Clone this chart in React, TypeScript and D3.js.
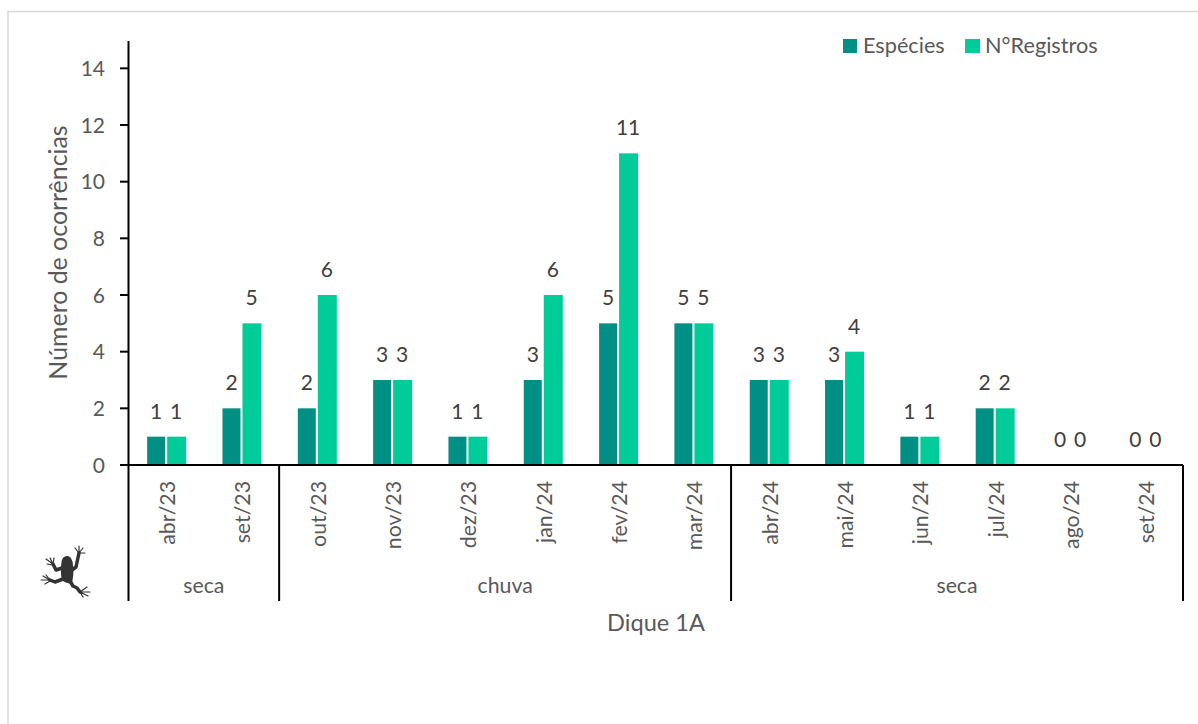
import React from "react";
import * as d3 from "d3";

const months = ["abr/23","set/23","out/23","nov/23","dez/23","jan/24","fev/24","mar/24","abr/24","mai/24","jun/24","jul/24","ago/24","set/24"];
const especies = [1,2,2,3,1,3,5,5,3,3,1,2,0,0];
const registros = [1,5,6,3,1,6,11,5,3,4,1,2,0,0];
const seasons = [
  { label: "seca", span: 2 },
  { label: "chuva", span: 6 },
  { label: "seca", span: 6 },
];
const yTicks = [0,2,4,6,8,10,12,14];
const seriesNames = ["Espécies", "N°Registros"];
const colors = ["#008F84", "#00CC99"];
const font = "Lato, 'Open Sans', sans-serif";
const grey = "#595959";

export default function App() {
  const x = d3.scaleBand<number>().domain(d3.range(months.length)).range([128.5, 1183]);
  const y = d3.scaleLinear().domain([0, 15]).range([465, 40]);
  const barW = 18;
  const gap = 2;
  let cum = 0;
  const groups = seasons.map((s) => {
    const start = cum;
    cum += s.span;
    return { ...s, start, end: cum };
  });
  const edge = (i: number) => (i >= months.length ? 1183 : (x(i) as number));
  const boundaries = [0, ...groups.map((g) => g.end)];
  return (
    <svg width={1198} height={724} style={{ position: "absolute", left: 0, top: 0, background: "#fff" }} fontFamily={font}>
      <path d="M8 724V11.5H1198" fill="none" stroke="#D9D9D9" strokeWidth={1.5} />
      {months.map((m, i) => {
        const c = (x(i) as number) + x.bandwidth() / 2;
        const l = c - gap / 2 - barW;
        const r = c + gap / 2;
        return (
          <g key={m + i}>
            <rect x={l} y={y(especies[i])} width={barW} height={y(0) - y(especies[i])} fill={colors[0]} />
            <rect x={r} y={y(registros[i])} width={barW + 1} height={y(0) - y(registros[i])} fill={colors[1]} />
            <text x={l + barW / 2} y={y(especies[i]) - 18} textAnchor="middle" fontSize={21} fill="#404040">{especies[i]}</text>
            <text x={r + barW / 2} y={y(registros[i]) - 18} textAnchor="middle" fontSize={21} fill="#404040">{registros[i]}</text>
            <text transform={`translate(${c + 9},${481}) rotate(-90)`} textAnchor="end" fontSize={21.3} fill={grey}>{m}</text>
          </g>
        );
      })}
      <line x1={128.5} x2={128.5} y1={41} y2={601} stroke="#000" strokeWidth={2} />
      <line x1={120} x2={1183} y1={y(0)} y2={y(0)} stroke="#000" strokeWidth={2} />
      {yTicks.map((t) => (
        <g key={t}>
          <line x1={120} x2={128} y1={y(t)} y2={y(t)} stroke="#000" strokeWidth={2} />
          <text x={105} y={y(t) + 7.5} textAnchor="end" fontSize={21} fill={grey}>{t}</text>
        </g>
      ))}
      {boundaries.slice(1).map((b) => (
        <line key={b} x1={edge(b)} x2={edge(b)} y1={y(0)} y2={601} stroke="#000" strokeWidth={2} />
      ))}
      {groups.map((g, i) => (
        <text key={i} x={(edge(g.start) + edge(g.end)) / 2} y={593} textAnchor="middle" fontSize={21.3} fill={grey}>{g.label}</text>
      ))}
      <text x={656} y={631} textAnchor="middle" fontSize={23.6} fill={grey}>Dique 1A</text>
      <text transform="translate(67,252.5) rotate(-90)" textAnchor="middle" fontSize={24.9} fill={grey}>Número de ocorrências</text>
      <rect x={843} y={39} width={14} height={14} fill={colors[0]} />
      <text x={863} y={53} fontSize={21.7} fill={grey}>{seriesNames[0]}</text>
      <rect x={965} y={39} width={15} height={14} fill={colors[1]} />
      <text x={985} y={53} fontSize={21.7} fill={grey}>{seriesNames[1]}</text>
      <g fill="#333" stroke="#333" strokeLinecap="round" strokeLinejoin="round">
        <path d="M67 556C71 556 73 561 73 566C74 572 73 578 72 583C70 584 66 583 63 581C60 578 61 562 62 560C63 557 65 556 67 556Z" stroke="none" />
        <path d="M62 568L56 570L53 564M72 570L76 567L79 553M63 579L55 582L50 580M70 581L73 586L77 588L80 592" fill="none" strokeWidth={3.5} />
        <path d="M53 564L46 559M53 564L50 558M53 564L54 558M53 565L47 564M79 553L75 548M79 553L79 546M79 553L83 548M79 553L85 553M50 580L41 580M50 580L43 576M50 580L46 575M50 581L45 584M80 592L90 592M80 592L87 587M80 592L88 596M80 592L83 597" fill="none" strokeWidth={1.2} />
      </g>
    </svg>
  );
}
